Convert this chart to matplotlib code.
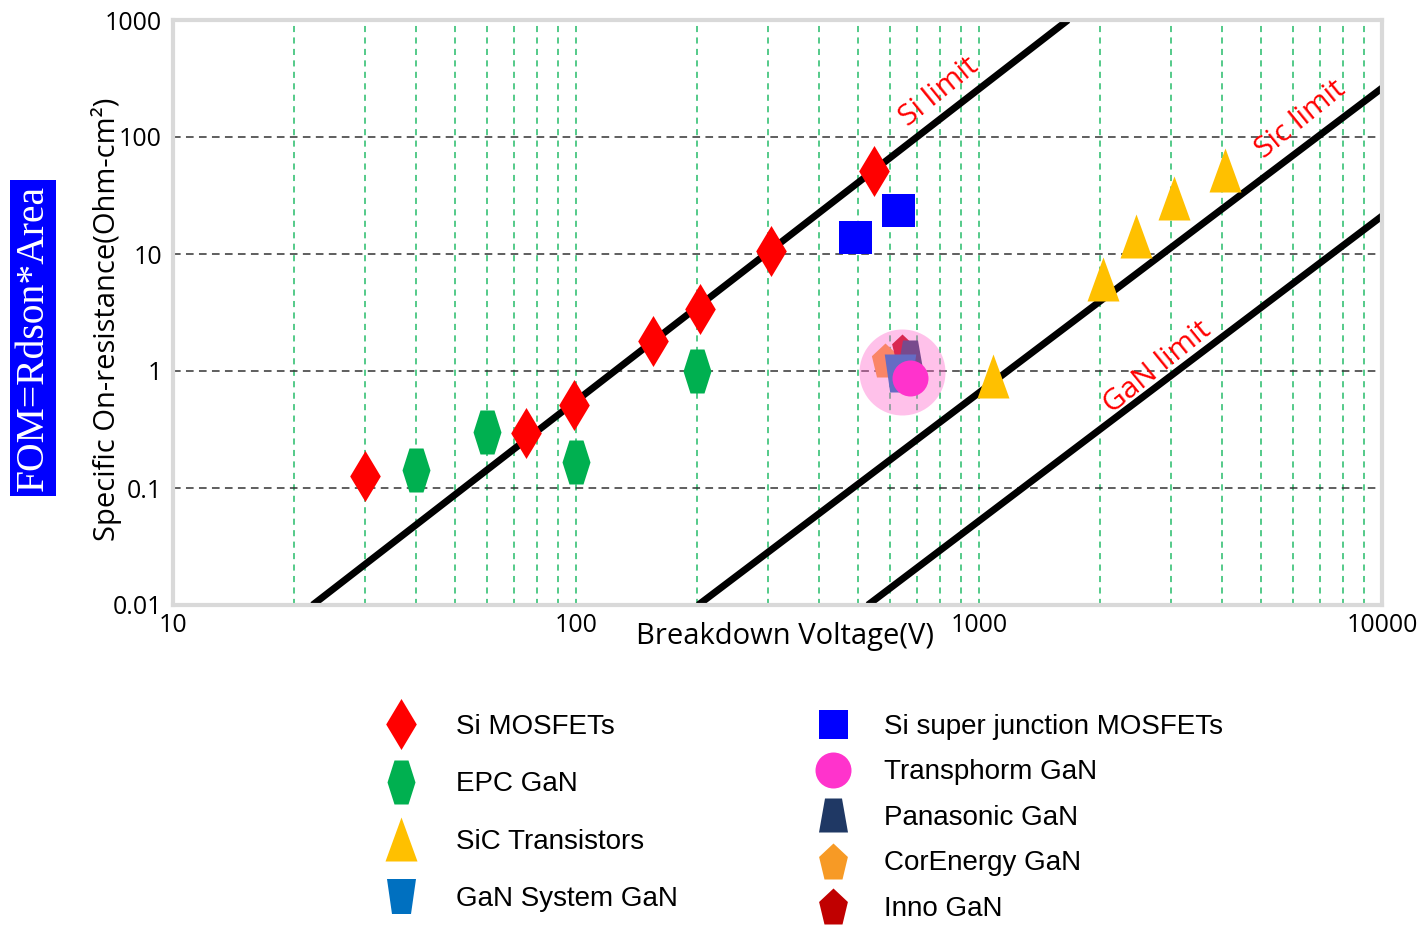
import matplotlib
matplotlib.use('Agg')
import matplotlib.pyplot as plt
from matplotlib.lines import Line2D
from matplotlib.ticker import LogLocator, NullFormatter
from matplotlib.font_manager import FontProperties

# ---------------- data ----------------
si_mos_v = [30, 75, 99, 155, 203, 305, 550]
si_mos_r = [0.127, 0.295, 0.51, 1.8, 3.4, 10.6, 51]

epc_v = [40, 60, 100, 200]
epc_r = [0.143, 0.30, 0.167, 1.0]

sic_v = [1084, 2030, 2455, 3055, 4075]
sic_r = [0.90, 6.1, 14.3, 30, 52]

sj_v = [492, 630]
sj_r = [14, 23.8]

core_v, core_r = [583], [1.24]
inno_v, inno_r = [643], [1.6]
pana_v, pana_r = [673], [1.37]
gans_v, gans_r = [635], [0.96]
trans_v, trans_r = [673], [0.87]
halo_v, halo_r = [645], [0.98]

si_lim_v = [22.2, 1663]
si_lim_r = [0.01, 1000]
sic_lim_v = [201, 10000]
sic_lim_r = [0.01, 262]
gan_lim_v = [530, 10000]
gan_lim_r = [0.01, 21.1]

limit_labels = ["Si limit", "Sic limit", "GaN limit"]
limit_label_v = [795, 6281, 2774]
limit_label_r = [243, 140, 1.06]

xticks = [10, 100, 1000, 10000]
xticklabels = ["10", "100", "1000", "10000"]
yticks = [0.01, 0.1, 1, 10, 100, 1000]
yticklabels = ["0.01", "0.1", "1", "10", "100", "1000"]

# ---------------- marker shapes ----------------
diamond = [(0, 1), (0.6, 0), (0, -1), (-0.6, 0)]
hexagon = [(-0.318, 1), (0.318, 1), (0.636, 0), (0.318, -1), (-0.318, -1), (-0.636, 0)]
triangle = [(0, 1), (0.727, -1), (-0.727, -1)]
square = [(-1, -1), (1, -1), (1, 1), (-1, 1)]
trap_down = [(-0.829, 1), (0.829, 1), (0.543, -1), (-0.543, -1)]
trap_up = [(-0.5, 1), (0.5, 1), (0.853, -1), (-0.853, -1)]
pentagon = [(0, 1), (0.8, 0.25), (0.5, -1), (-0.5, -1), (-0.8, 0.25)]

PX = 0.72  # points per pixel at dpi 100

C_RED = '#FF0000'
C_GREEN = '#00B050'
C_YELLOW = '#FFC000'
C_BLUE = '#0000FF'
C_GANS = '#0070C0'
C_TRANS = '#FF33CC'
C_PANA = '#1F3864'
C_CORE = '#F79A25'
C_INNO = '#C00000'

plt.rcParams['font.family'] = ['Open Sans', 'DejaVu Sans']

fig = plt.figure(figsize=(14.28, 9.31), dpi=100)
ax = fig.add_axes([173/1428, 1-605/931, (1382-173)/1428, (605-20)/931])
ax.set_xscale('log')
ax.set_yscale('log')
ax.set_xlim(10, 10000)
ax.set_ylim(0.01, 1000)

# grid
ax.xaxis.set_major_locator(LogLocator(base=10))
ax.xaxis.set_minor_locator(LogLocator(base=10, subs=range(2, 10)))
ax.xaxis.set_minor_formatter(NullFormatter())
ax.set_xticks(xticks)
ax.set_xticklabels(xticklabels)
ax.set_yticks(yticks)
ax.set_yticklabels(yticklabels)
ax.yaxis.set_minor_formatter(NullFormatter())
ax.tick_params(which='both', length=0)
ax.tick_params(axis='x', labelsize=18, pad=6)
ax.tick_params(axis='y', labelsize=18, pad=8)

ax.grid(True, which='both', axis='x', color=C_GREEN, linestyle=(0, (4, 3.5)), linewidth=1.1, alpha=0.85)
ax.grid(True, which='major', axis='y', color='#333333', linestyle=(0, (5, 3.5)), linewidth=1.1)
ax.set_axisbelow(True)

for s in ax.spines.values():
    s.set_color('#D9D9D9')
    s.set_linewidth(3)

# limit lines
for v, r in [(si_lim_v, si_lim_r), (sic_lim_v, sic_lim_r), (gan_lim_v, gan_lim_r)]:
    ax.plot(v, r, color='black', linewidth=5, solid_capstyle='butt', zorder=2)

for t, v, r in zip(limit_labels, limit_label_v, limit_label_r):
    ax.text(v, r, t, color='red', fontsize=21.5, rotation=39, rotation_mode='anchor',
            ha='center', va='center', zorder=3)

# data markers
ax.plot(si_mos_v, si_mos_r, ls='none', marker=diamond, ms=51*PX, color=C_RED, mew=0, zorder=4)
ax.plot(epc_v, epc_r, ls='none', marker=hexagon, ms=44*PX, color=C_GREEN, mew=0, zorder=4)
ax.plot(sic_v, sic_r, ls='none', marker=triangle, ms=44*PX, color=C_YELLOW, mew=0, zorder=4)
ax.plot(sj_v, sj_r, ls='none', marker=square, ms=33*PX, color=C_BLUE, mew=0, zorder=4)

ax.plot(core_v, core_r, ls='none', marker=pentagon, ms=34*PX, color=C_CORE, mew=0, zorder=4)
ax.plot(inno_v, inno_r, ls='none', marker=pentagon, ms=26*PX, color=C_INNO, mew=0, zorder=4)
ax.plot(pana_v, pana_r, ls='none', marker=trap_up, ms=30*PX, color=C_PANA, mew=0, zorder=4)
ax.plot(gans_v, gans_r, ls='none', marker=trap_down, ms=38*PX, color=C_GANS, mew=0, zorder=4)
ax.plot(halo_v, halo_r, ls='none', marker='o', ms=86*PX, color='#FF66CC', alpha=0.4, mew=0, zorder=5)
ax.plot(trans_v, trans_r, ls='none', marker='o', ms=36*PX, color=C_TRANS, mew=0, zorder=6)

# axis labels
ax.set_xlabel('Breakdown Voltage(V)', fontsize=21)
ax.xaxis.set_label_coords((785-173)/1209, -(622-605)/585)
ax.set_ylabel('Specific On-resistance(Ohm-cm²)', fontsize=21)
ax.yaxis.set_label_coords(-(173-122)/1209, (605-319)/585)

# FOM box
fig.text(33/1428, 1-338/931, 'FOM=Rdson*Area', rotation=90, color='white',
         fontsize=28.5, family='Liberation Serif', ha='center', va='center',
         bbox=dict(boxstyle='square,pad=0.12', facecolor='#0000FF', edgecolor='none'))

# legends
def h(marker, ms, color):
    return Line2D([], [], ls='none', marker=marker, ms=ms*PX, color=color, mew=0)

left_handles = [h(diamond, 51, C_RED), h(hexagon, 44, C_GREEN),
                h(triangle, 44, C_YELLOW), h(trap_down, 35, C_GANS)]
left_labels = ['Si MOSFETs', 'EPC GaN', 'SiC Transistors', 'GaN System GaN']
right_handles = [h(square, 29, C_BLUE), h('o', 36, C_TRANS), h(trap_up, 34, C_PANA),
                 h(pentagon, 36, C_CORE), h(pentagon, 36, C_INNO)]
right_labels = ['Si super junction MOSFETs', 'Transphorm GaN', 'Panasonic GaN',
                'CorEnergy GaN', 'Inno GaN']

lp = FontProperties(family='Liberation Sans', size=20)
fig.legend(left_handles, left_labels, loc='upper left', bbox_to_anchor=(373/1428, 1-714/931),
           frameon=False, prop=lp, handlelength=2, handletextpad=1.0, labelspacing=1.13,
           borderpad=0, borderaxespad=0)
fig.legend(right_handles, right_labels, loc='upper left', bbox_to_anchor=(805/1428, 1-714/931),
           frameon=False, prop=lp, handlelength=2, handletextpad=0.85, labelspacing=0.7,
           borderpad=0, borderaxespad=0)

fig.savefig('out.png', dpi=100)
